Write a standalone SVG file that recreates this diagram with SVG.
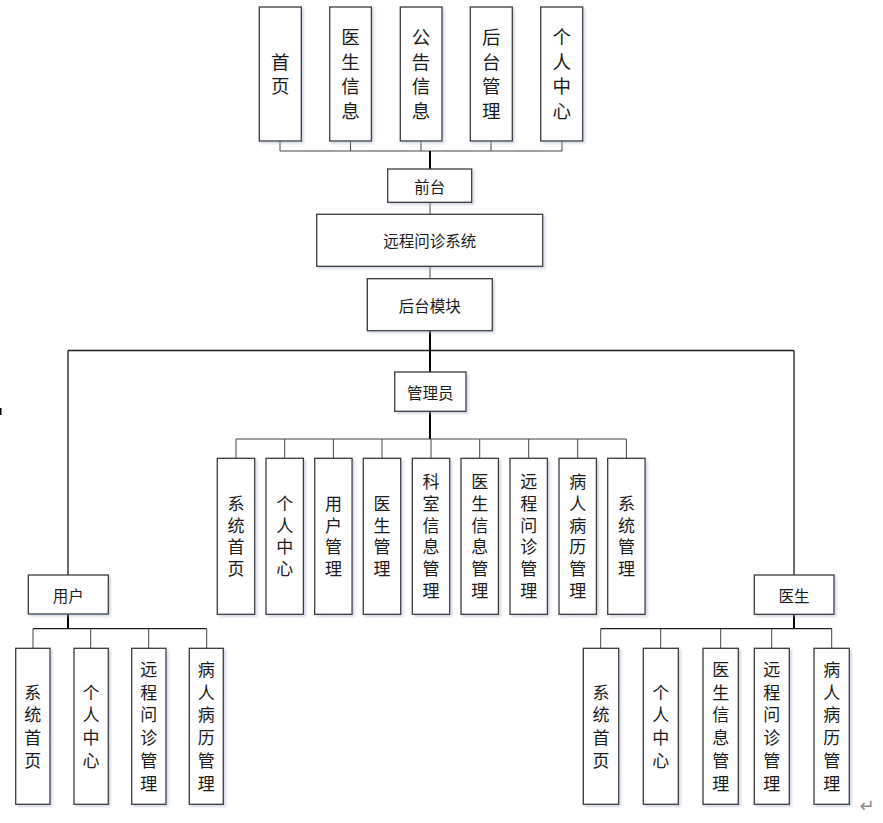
<svg xmlns="http://www.w3.org/2000/svg" width="883" height="823" viewBox="0 0 883 823">
<style>
.box{fill:#fff;stroke:#3a3a3a;stroke-width:1.3;filter:url(#sh)}
.t{font-family:"Noto Sans CJK SC","Noto Sans",sans-serif;fill:#1a1a1a;text-anchor:middle}
.h{font-size:15.5px;dominant-baseline:central}
.v{writing-mode:vertical-rl;text-orientation:upright}
.vt{font-size:18.5px;letter-spacing:6px}
.vm{font-size:17px;letter-spacing:4.8px}
.vb{font-size:17px;letter-spacing:5.7px}
.thin{stroke:#444;stroke-width:1;fill:none}
.mid{stroke:#1a1a1a;stroke-width:1.3;fill:none}
.thick{stroke:#000;stroke-width:2;fill:none}
</style>
<defs>
<filter id="sh" x="-20%" y="-20%" width="150%" height="150%">
<feDropShadow dx="2" dy="2" stdDeviation="1.2" flood-color="#9fb0cc" flood-opacity="0.45"/>
</filter>
</defs>
<rect width="883" height="823" fill="#fff"/>
<g id="connectors">
<path class="thin" d="M280 141V151M350.5 141V151M421 141V151M491 141V151M562 141V151M280 151H562"/>
<path class="thick" d="M430 151V169"/>
<path class="thin" d="M430 202V214M430 266V279"/>
<path class="thick" d="M430 331V372"/>
<path class="mid" d="M68 350.5H794M68 350.5V575M794 350.5V575"/>
<path class="thick" d="M430 411V439"/>
<path class="thin" d="M236 439H626.5M236 439V458M284.7 439V458M333.4 439V458M382 439V458M431 439V458M479.7 439V458M528.7 439V458M577.7 439V458M626.4 439V458"/>
<path class="thick" d="M68 614V628.7M794 614V628.7"/>
<path class="mid" d="M33 628.7H206.7M600.7 628.7H831.7"/>
<path class="thin" d="M33 628.7V648M90.7 628.7V648M148.7 628.7V648M206.7 628.7V648M600.7 628.7V648M660.7 628.7V648M720.7 628.7V648M771.7 628.7V648M831.7 628.7V648"/>
</g>
<g id="n-home"><rect class="box" x="259.3" y="7" width="42" height="134"/><text class="t v vt" x="280.3" y="77">首页</text></g>
<g id="n-docinfo"><rect class="box" x="329.7" y="7" width="41.7" height="134"/><text class="t v vt" x="350.5" y="77">医生信息</text></g>
<g id="n-notice"><rect class="box" x="400.3" y="7" width="41.7" height="134"/><text class="t v vt" x="421.1" y="77">公告信息</text></g>
<g id="n-backend"><rect class="box" x="470.3" y="7" width="42" height="134"/><text class="t v vt" x="491.3" y="77">后台管理</text></g>
<g id="n-personal"><rect class="box" x="540.7" y="7" width="42" height="134"/><text class="t v vt" x="561.7" y="77">个人中心</text></g>
<g id="n-front"><rect class="box" x="387.7" y="169" width="84" height="33.3"/><text class="t h" x="429.7" y="185.6">前台</text></g>
<g id="n-system"><rect class="box" x="316.7" y="214.3" width="226" height="52"/><text class="t h" x="429.7" y="240.3">远程问诊系统</text></g>
<g id="n-module"><rect class="box" x="367.3" y="278.7" width="125" height="52"/><text class="t h" x="429.8" y="304.7">后台模块</text></g>
<g id="n-admin"><rect class="box" x="394.7" y="372" width="71.3" height="39.3"/><text class="t h" x="430.3" y="391.6">管理员</text></g>
<g id="a1"><rect class="box" x="217.3" y="458.3" width="37.4" height="156"/><text class="t v vm" x="236" y="538.4">系统首页</text></g>
<g id="a2"><rect class="box" x="266" y="458.3" width="37.4" height="156"/><text class="t v vm" x="284.7" y="538.4">个人中心</text></g>
<g id="a3"><rect class="box" x="314.7" y="458.3" width="37.4" height="156"/><text class="t v vm" x="333.4" y="538.4">用户管理</text></g>
<g id="a4"><rect class="box" x="363.3" y="458.3" width="37.4" height="156"/><text class="t v vm" x="382" y="538.4">医生管理</text></g>
<g id="a5"><rect class="box" x="412.3" y="458.3" width="37.4" height="156"/><text class="t v vm" x="431" y="538.4">科室信息管理</text></g>
<g id="a6"><rect class="box" x="461" y="458.3" width="37.4" height="156"/><text class="t v vm" x="479.7" y="538.4">医生信息管理</text></g>
<g id="a7"><rect class="box" x="510" y="458.3" width="37.4" height="156"/><text class="t v vm" x="528.7" y="538.4">远程问诊管理</text></g>
<g id="a8"><rect class="box" x="559" y="458.3" width="37.4" height="156"/><text class="t v vm" x="577.7" y="538.4">病人病历管理</text></g>
<g id="a9"><rect class="box" x="607.7" y="458.3" width="37.4" height="156"/><text class="t v vm" x="626.4" y="538.4">系统管理</text></g>
<g id="n-user"><rect class="box" x="28.3" y="575" width="80" height="39"/><text class="t h" x="68.3" y="594.5">用户</text></g>
<g id="n-doctor"><rect class="box" x="754.3" y="575" width="79.7" height="39.3"/><text class="t h" x="794.1" y="594.6">医生</text></g>
<g id="u1"><rect class="box" x="15.7" y="648.3" width="34.3" height="156"/><text class="t v vb" x="32.8" y="729.2">系统首页</text></g>
<g id="u2"><rect class="box" x="74" y="648.3" width="34.3" height="156"/><text class="t v vb" x="91.1" y="729.2">个人中心</text></g>
<g id="u3"><rect class="box" x="131.7" y="648.3" width="34.3" height="156"/><text class="t v vb" x="148.8" y="729.2">远程问诊管理</text></g>
<g id="u4"><rect class="box" x="189.3" y="648.3" width="34" height="156"/><text class="t v vb" x="206.3" y="729.2">病人病历管理</text></g>
<g id="d1"><rect class="box" x="583.3" y="648.3" width="35.4" height="156"/><text class="t v vb" x="601" y="729.2">系统首页</text></g>
<g id="d2"><rect class="box" x="643.3" y="648.3" width="35" height="156"/><text class="t v vb" x="660.8" y="729.2">个人中心</text></g>
<g id="d3"><rect class="box" x="703" y="648.3" width="35.3" height="156"/><text class="t v vb" x="720.7" y="729.2">医生信息管理</text></g>
<g id="d4"><rect class="box" x="754.3" y="648.3" width="35" height="156"/><text class="t v vb" x="771.8" y="729.2">远程问诊管理</text></g>
<g id="d5"><rect class="box" x="814" y="648.3" width="35.3" height="156"/><text class="t v vb" x="831.7" y="729.2">病人病历管理</text></g>
<rect x="0" y="408" width="1.5" height="7" fill="#000"/>
<text x="867" y="805" font-family="'DejaVu Sans',sans-serif" font-size="18" fill="#8a8a8a" text-anchor="middle" dominant-baseline="central">↵</text>
</svg>
